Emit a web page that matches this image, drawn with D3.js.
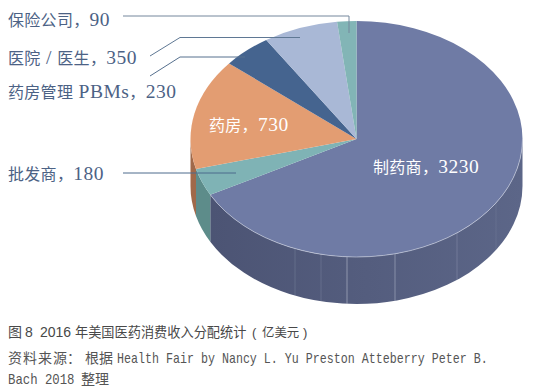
<!doctype html>
<html lang="zh">

<head>
  <meta charset="utf-8">
  <script src="https://d3js.org/d3.v7.min.js"></script>
  <style type="text/css">
    html,
    body {
      width: 100%;
      height: 100%;
      padding: 0;
      margin: 0;
      background: #fff;
    }

    svg {
      display: block;
    }

    .label {
      font-family: "Liberation Serif", "Noto Sans CJK SC", serif;
    }

    .caption {
      font-family: "Liberation Sans", "Noto Sans CJK SC", sans-serif;
      fill: #484848;
    }

    .source {
      font-family: "Liberation Mono", "Noto Sans CJK SC", monospace;
      font-size: 14px;
      fill: #555;
    }
  </style>
</head>

<body>
  <script>
    var names = ["制药商", "批发商", "药房", "药房管理 PBMs", "医院 / 医生", "保险公司"];
    var values = [3230, 180, 730, 230, 350, 90];
    var topColors = ["#6f7ba5", "#7fb3b5", "#e39d72", "#45648f", "#a9b8d6", "#82b5b6"];
    var sideColors = ["#545e80", "#5d8c8a", "#a0694a", "#33496a", "#7c88a0", "#5d8c8a"];
    // faint seams on the front wall of the big slice
    var seamXs = [295, 321, 347, 395, 457, 496];
    var seamOpacity = [0.2, 0.2, 0.6, 0.5, 0.25, 0.12];

    var width = 536, height = 391;
    var cx = 356.5, cy = 139, rx = 166, ry = 118, depth = 47;

    var svg = d3.select("body").append("svg")
      .attr("width", width)
      .attr("height", height);

    // share of the total -> angle, clockwise from 12 o'clock
    var arcs = d3.pie().sort(null)(values);

    function px(a) { return cx + rx * Math.sin(a); }
    function py(a) { return cy - ry * Math.cos(a); }

    // side wall of one slice, only the part on the front half of the ellipse
    function wallPath(d) {
      var a0 = Math.max(d.startAngle, Math.PI / 2);
      var a1 = Math.min(d.endAngle, Math.PI * 3 / 2);
      if (a0 >= a1) return null;
      return "M" + px(a0) + "," + py(a0)
        + "A" + rx + "," + ry + " 0 0 1 " + px(a1) + "," + py(a1)
        + "L" + px(a1) + "," + (py(a1) + depth)
        + "A" + rx + "," + ry + " 0 0 0 " + px(a0) + "," + (py(a0) + depth)
        + "Z";
    }

    function slicePath(d) {
      var large = d.endAngle - d.startAngle > Math.PI ? 1 : 0;
      return "M" + cx + "," + cy
        + "L" + px(d.startAngle) + "," + py(d.startAngle)
        + "A" + rx + "," + ry + " 0 " + large + " 1 " + px(d.endAngle) + "," + py(d.endAngle)
        + "Z";
    }

    // the big wall gets darker to the left
    var defs = svg.append("defs");
    var grad = defs.append("linearGradient").attr("id", "wall")
      .attr("gradientUnits", "userSpaceOnUse")
      .attr("x1", 212).attr("x2", 522).attr("y1", 0).attr("y2", 0);
    grad.append("stop").attr("offset", "0%").attr("stop-color", "#4c5474");
    grad.append("stop").attr("offset", "100%").attr("stop-color", "#5c6688");

    svg.append("g").selectAll("path")
      .data(arcs)
      .enter().append("path")
      .attr("d", wallPath)
      .attr("fill", function(d, i) { return i === 0 ? "url(#wall)" : sideColors[i]; });

    svg.append("g").selectAll("line")
      .data(seamXs)
      .enter().append("line")
      .attr("x1", function(d) { return d; })
      .attr("x2", function(d) { return d; })
      .attr("y1", function(d) { return cy + ry * Math.sqrt(1 - Math.pow((d - cx) / rx, 2)); })
      .attr("y2", function(d) { return cy + depth + ry * Math.sqrt(1 - Math.pow((d - cx) / rx, 2)); })
      .attr("stroke", "#d5d9e6")
      .attr("stroke-width", 0.8)
      .attr("stroke-opacity", function(d, i) { return seamOpacity[i]; });

    svg.append("g").selectAll("path")
      .data(arcs)
      .enter().append("path")
      .attr("d", slicePath)
      .attr("fill", function(d, i) { return topColors[i]; });

    // thin light rim along the front of the big slice
    svg.append("path")
      .attr("d", "M" + px(Math.PI / 2) + "," + py(Math.PI / 2)
        + "A" + rx + "," + ry + " 0 0 1 " + px(arcs[0].endAngle) + "," + py(arcs[0].endAngle))
      .attr("fill", "none")
      .attr("stroke", "#c3c9da")
      .attr("stroke-width", 0.7);

    // leader lines
    var leaders = [
      [[123, 16], [349, 16], [349, 33]],
      [[150, 56], [180, 37.5], [300, 37.5]],
      [[150, 76], [180, 57], [245, 57]],
      [[123, 173], [236, 173]]
    ];
    var leaderColors = ["#75879c", "#5f7894", "#56708e", "#4d6b8c"];
    var line = d3.line();
    svg.append("g").selectAll("path")
      .data(leaders)
      .enter().append("path")
      .attr("d", line)
      .attr("fill", "none")
      .attr("stroke", function(d, i) { return leaderColors[i]; })
      .attr("stroke-width", 1);

    // CJK runs are smaller than the latin digits next to them
    function mixedText(sel, str, cjkSize, latinSize, cjkSpacing, latinSpacing) {
      str.match(/[\u4e00-\u9fff，]+|[^\u4e00-\u9fff，]+/g).forEach(function(part) {
        var cjk = /[\u4e00-\u9fff，]/.test(part);
        sel.append("tspan")
          .attr("font-size", cjk ? cjkSize : latinSize)
          .attr("letter-spacing", cjk ? cjkSpacing : latinSpacing)
          .style("white-space", "pre")
          .text(part);
      });
    }

    // outside labels
    var labelRows = [
      { i: 5, x: 8, y: 26 },
      { i: 4, x: 8, y: 64 },
      { i: 3, x: 8, y: 98 },
      { i: 1, x: 8, y: 180 }
    ];
    labelRows.forEach(function(d) {
      var t = svg.append("text").attr("class", "label")
        .attr("x", d.x).attr("y", d.y).attr("fill", "#4c6285");
      mixedText(t, names[d.i] + "，" + values[d.i], 16, 19.5, 0.3, 0.5);
    });

    // labels on the pie
    var onPie = [
      { i: 2, x: 209, y: 131 },
      { i: 0, x: 373, y: 173 }
    ];
    onPie.forEach(function(d) {
      var t = svg.append("text").attr("class", "label")
        .attr("x", d.x).attr("y", d.y).attr("fill", "#fff");
      mixedText(t, names[d.i] + "，" + values[d.i], 16, 19.5, 0.3, 0.5);
    });

    var cap = svg.append("text").attr("class", "caption")
      .attr("x", 8).attr("y", 337);
    cap.append("tspan").attr("font-size", 14).text("图");
    cap.append("tspan").attr("x", 25).attr("font-size", 14).text("8");
    cap.append("tspan").attr("x", 40).attr("font-size", 14).text("2016");
    cap.append("tspan").attr("x", 75).attr("font-size", 13.2).text("年美国医药消费收入分配统计");
    cap.append("tspan").attr("x", 252).attr("font-size", 13).text("(");
    cap.append("tspan").attr("x", 262).attr("font-size", 12.4).text("亿美元");
    cap.append("tspan").attr("x", 303).attr("font-size", 13).text(")");

    // source lines: narrow mono latin, spaced CJK
    svg.append("text").attr("class", "source")
      .attr("x", 8).attr("y", 363).attr("letter-spacing", 1)
      .text("资料来源");
    svg.append("text").attr("class", "source")
      .attr("x", 67).attr("y", 363)
      .text("：");
    svg.append("text").attr("class", "source")
      .attr("x", 85).attr("y", 363)
      .text("根据");
    svg.append("text").attr("class", "source")
      .attr("transform", "translate(117,363) scale(0.833,1)")
      .text("Health Fair by Nancy L. Yu Preston Atteberry Peter B.");
    svg.append("text").attr("class", "source")
      .attr("transform", "translate(8,384) scale(0.88,1)")
      .text("Bach 2018");
    svg.append("text").attr("class", "source")
      .attr("x", 81).attr("y", 384)
      .text("整理");
  </script>
</body>

</html>
